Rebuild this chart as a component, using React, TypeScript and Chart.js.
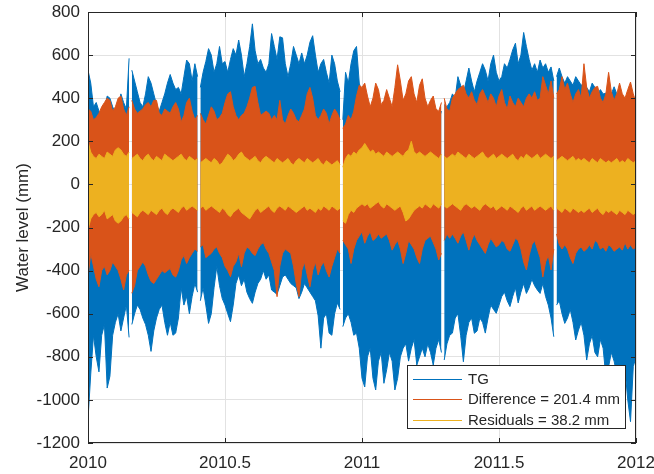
import { useEffect, useRef } from "react";
import { Chart, registerables } from "chart.js";

Chart.register(...registerables);

// Time axis: one envelope bin every 0.01 year starting at 2010.
const START_YEAR = 2010;
const BIN_YEARS = 0.01;

const xTicks = [2010, 2010.5, 2011, 2011.5, 2012];
const xTickLabels = ["2010", "2010.5", "2011", "2011.5", "2012"];
const yTicks = [800, 600, 400, 200, 0, -200, -400, -600, -800, -1000, -1200];

// Record interruptions (decimal year).
const gapYears = [2010.153, 2010.409, 2010.925, 2011.296, 2011.7];

// Tide gauge: highest and lowest level in each bin (mm).
const tgHigh = [
  530, 470, 360, 380, 340, 300, 350, 410, 400, 360,
  330, 350, 420, 380, 350, 585, 530, 480, 430, 380,
  360, 420, 500, 470, 420, 370, 340, 380, 420, 470,
  510, 470, 440, 450, 420, 500, 577, 560, 480, 560,
  500, 450, 520, 570, 630, 600, 520, 560, 640, 560,
  570, 520, 580, 630, 600, 670, 600, 500, 560, 640,
  745, 620, 560, 580, 540, 520, 560, 700, 640, 580,
  685, 680, 560, 500, 560, 640, 600, 560, 610, 560,
  600, 660, 690, 600, 520, 560, 580, 520, 470, 600,
  560, 480, 430, 300, 520, 470, 560, 620, 640, 470,
  420, 400, 350, 320, 360, 420, 380, 320, 340, 400,
  360, 320, 400, 480, 420, 340, 360, 420, 440, 370,
  330, 400, 430, 350, 320, 350, 370, 320, 300, 340,
  370, 360, 380, 420, 400, 500, 460, 420, 480, 540,
  480, 430, 480, 520, 560, 530, 480, 560, 600, 520,
  480, 500, 560, 540, 580, 624, 655, 560, 600, 705,
  640, 580, 530, 560, 520, 577, 540, 560, 520, 545,
  480, 500, 540, 500, 470, 500, 480, 460, 500, 480,
  460, 470, 450, 430, 470, 450, 420, 440, 420, 423,
  440, 420, 453, 420, 400, 410, 392, 380, 400, 360,
  340,
];
const tgLow = [
  -1090, -880, -700, -800, -870, -700, -650, -945, -890, -700,
  -640, -600, -680, -620, -560, -710, -650, -600, -560, -580,
  -620, -650, -700, -775, -680, -620, -580, -560, -640, -700,
  -640, -700, -690, -620, -480, -560, -520, -600, -520, -460,
  -500, -540, -480, -560, -645, -600, -480, -380, -470, -530,
  -560, -600, -637, -560, -460, -420, -470, -440, -500, -530,
  -552, -500, -460, -440, -400, -440, -420, -490, -500, -510,
  -470, -430, -420, -440, -460, -470, -480, -530, -500, -460,
  -480, -500, -520, -540, -610, -760, -620, -600, -690, -700,
  -600, -550, -580, -660, -620, -600, -640, -700, -690, -760,
  -900, -940, -800, -760, -900, -954, -820, -780, -923, -860,
  -780, -820, -954, -900, -800, -760, -740, -820, -760, -720,
  -838, -800, -760, -800, -740, -780, -838, -760, -720, -780,
  -815, -740, -700, -690, -620, -600, -700, -823, -700, -640,
  -620, -691, -680, -620, -640, -690, -620, -560, -580, -598,
  -560, -520, -500, -540, -567, -520, -480, -550, -500, -460,
  -506, -480, -440, -470, -490, -506, -460, -520, -560, -620,
  -707, -560, -540, -600, -645, -620, -580, -640, -722, -676,
  -640, -700, -815, -740, -700, -780, -800, -720, -760, -892,
  -846, -780, -820, -880, -970, -923, -860, -1000, -1101, -846,
  -800,
];

// Difference series envelope (mm).
const diffHigh = [
  350, 340, 300, 310, 330, 360, 380, 400, 390, 340,
  360, 400, 410, 350, 320, 360, 390, 350, 330, 340,
  350, 370, 380, 360, 390, 390, 330, 320, 350, 340,
  330, 360, 380, 350, 290, 320, 380, 400, 340, 300,
  320, 330, 300, 280, 320, 360, 340, 300, 310, 330,
  380, 420, 430, 360, 320, 300, 320, 330, 360, 400,
  450, 455, 380, 320, 330, 340, 330, 300, 320, 300,
  390, 300, 280, 320, 350, 330, 300, 290, 320, 350,
  420, 450, 400, 320, 300, 320, 350, 330, 280, 320,
  350, 330, 300, 260, 280, 320, 300, 340, 410, 460,
  450, 470, 410, 360, 400, 470, 440, 370, 390, 440,
  400, 360, 450, 555, 480, 390, 420, 480, 500, 420,
  380, 460, 490, 400, 360, 390, 410, 350, 340, 380,
  400, 350, 340, 400, 420, 440, 450, 460, 420, 400,
  430, 390, 370, 420, 440, 410, 380, 420, 400, 360,
  410, 440, 380, 350, 410, 380, 360, 400, 380, 360,
  400, 420, 400, 430, 390, 400, 500, 460, 420, 480,
  400, 420, 440, 500, 440, 470, 420, 380, 420, 440,
  400, 560, 450, 400, 430, 450, 455, 400, 380, 420,
  520, 430, 390, 420, 470, 420, 400, 440, 475, 420,
  380,
];
const diffLow = [
  -430, -320, -380, -440, -475, -400, -380, -420, -400, -360,
  -380, -400, -440, -490, -420, -400, -505, -470, -400, -380,
  -360, -380, -420, -450, -460, -440, -420, -400, -410, -400,
  -390, -420, -430, -400, -350, -330, -367, -340, -320, -300,
  -310, -290, -280, -340, -330, -320, -300, -290, -320, -340,
  -380, -400, -428, -380, -360, -320, -382, -320, -290, -300,
  -320, -330, -300, -280, -270, -300, -320, -360, -400, -521,
  -380, -320, -300, -310, -320, -380, -460, -521, -400, -360,
  -420, -475, -400, -360, -420, -380, -360, -400, -430, -380,
  -340, -300, -320, -260, -280, -300, -367, -300, -260, -240,
  -220, -273, -240, -220, -260, -250, -230, -250, -240, -230,
  -260, -305, -280, -260, -300, -367, -320, -260, -280, -300,
  -340, -367, -300, -260, -250, -240, -270, -300, -351, -320,
  -260, -230, -250, -230, -250, -273, -240, -220, -260, -305,
  -260, -230, -260, -280, -300, -320, -280, -250, -270, -290,
  -280, -260, -270, -300, -310, -280, -250, -260, -300, -360,
  -397, -330, -280, -260, -300, -340, -430, -360, -330, -397,
  -300, -230, -280, -300, -280, -300, -340, -367, -320, -300,
  -290, -310, -300, -280, -300, -260, -270, -300, -290, -310,
  -280, -290, -310, -300, -290, -305, -270, -300, -280, -300,
  -290,
];

// Residuals envelope (mm).
const resHigh = [
  200, 150, 130, 120, 140, 130, 120, 150, 140, 130,
  160, 170, 160, 140, 130, 150, 120, 130, 140, 120,
  110, 130, 140, 120, 110, 130, 120, 110, 140, 130,
  120, 110, 120, 130, 140, 120, 110, 130, 120, 110,
  120, 100, 110, 120, 110, 100, 120, 110, 90, 100,
  120, 140, 130, 110, 120, 140, 150, 130, 120, 110,
  120, 130, 110, 100, 120, 130, 120, 110, 100, 120,
  110, 100, 110, 120, 100, 90, 110, 120, 110, 100,
  120, 110, 100, 110, 120, 100, 90, 110, 100, 90,
  100, 110, 90, 80, 120, 140, 130, 150, 140, 160,
  170, 190, 170, 150, 160, 140, 150, 140, 130, 150,
  140, 130, 140, 150, 140, 130, 150, 160, 200, 150,
  140, 150, 140, 130, 140, 150, 140, 130, 120, 140,
  130, 120, 130, 140, 130, 150, 140, 130, 120, 140,
  130, 120, 130, 140, 150, 130, 120, 130, 140, 120,
  130, 140, 130, 120, 130, 140, 120, 110, 130, 120,
  140, 130, 120, 130, 140, 120, 130, 140, 130, 120,
  130, 110, 120, 130, 120, 110, 120, 130, 110, 120,
  110, 120, 110, 100, 120, 110, 100, 120, 110, 100,
  110, 100, 110, 120, 100, 110, 100, 120, 110, 100,
  110,
];
const resLow = [
  -210, -160, -140, -130, -150, -140, -120, -160, -150, -140,
  -170, -180, -170, -150, -140, -160, -130, -140, -150, -130,
  -120, -130, -140, -120, -130, -140, -120, -110, -130, -140,
  -120, -110, -120, -130, -110, -100, -120, -110, -100, -110,
  -120, -110, -100, -120, -110, -100, -110, -120, -130, -110,
  -120, -140, -150, -130, -120, -110, -130, -140, -150, -160,
  -140, -120, -110, -130, -120, -110, -100, -120, -130, -110,
  -100, -110, -120, -100, -110, -120, -130, -120, -110, -100,
  -120, -110, -120, -130, -110, -120, -100, -110, -120, -100,
  -110, -120, -110, -170, -180, -140, -120, -130, -110, -100,
  -90, -100, -90, -110, -100, -90, -80, -100, -110, -90,
  -100, -110, -120, -110, -100, -130, -170, -160, -140, -120,
  -110, -100, -110, -90, -100, -110, -90, -100, -110, -90,
  -100, -110, -100, -90, -100, -110, -120, -100, -90, -100,
  -110, -100, -110, -120, -100, -90, -100, -110, -100, -120,
  -110, -100, -110, -120, -100, -110, -120, -130, -110, -100,
  -120, -110, -100, -120, -110, -100, -110, -120, -110, -100,
  -120, -110, -120, -130, -110, -120, -130, -110, -120, -130,
  -120, -130, -120, -110, -130, -120, -110, -130, -140, -120,
  -130, -120, -130, -140, -120, -130, -140, -120, -130, -140,
  -130,
];

const diffRms = 201.4;
const resRms = 38.2;

const COLORS = {
  tg: "#0072BD",
  diff: "#D95319",
  res: "#EDB120",
  axis: "#262626",
  grid: "#e2e2e2",
};
const FONT = "'Liberation Sans', Arial, Helvetica, sans-serif";

type Pt = { x: number; y: number | null };

// One envelope edge as {x, y} points, broken at the record interruptions.
function buildEdge(values: (number | null)[]): Pt[] {
  const pts: Pt[] = values.map((v, i) => ({ x: START_YEAR + i * BIN_YEARS, y: v }));
  for (const g of gapYears) pts.push({ x: g, y: null });
  pts.sort((a, b) => a.x - b.x);
  return pts;
}

const legendItems = [
  { text: "TG", color: COLORS.tg },
  { text: `Difference = ${diffRms.toFixed(1)} mm`, color: COLORS.diff },
  { text: `Residuals = ${resRms.toFixed(1)} mm`, color: COLORS.res },
];

// Axes box with inward ticks on all four sides, plus the boxed legend.
const framePlugin = {
  id: "frameAndLegend",
  afterDraw(chart: any) {
    const { ctx, chartArea } = chart;
    const { left, right, top, bottom } = chartArea;
    const xs = chart.scales.x;
    const ys = chart.scales.y;
    ctx.save();
    ctx.strokeStyle = COLORS.axis;
    ctx.lineWidth = 1;
    ctx.strokeRect(left + 0.5, top + 0.5, right - left - 1, bottom - top - 1);
    const tl = 5;
    ctx.beginPath();
    for (const v of xTicks) {
      const px = Math.round(xs.getPixelForValue(v)) + 0.5;
      ctx.moveTo(px, bottom);
      ctx.lineTo(px, bottom - tl);
      ctx.moveTo(px, top);
      ctx.lineTo(px, top + tl);
    }
    for (const v of yTicks) {
      const py = Math.round(ys.getPixelForValue(v)) + 0.5;
      ctx.moveTo(left, py);
      ctx.lineTo(left + tl, py);
      ctx.moveTo(right, py);
      ctx.lineTo(right - tl, py);
    }
    ctx.stroke();

    // legend
    const boxW = 218;
    const boxH = 63;
    const bx = right - 11 - boxW;
    const by = bottom - 15 - boxH;
    ctx.fillStyle = "#ffffff";
    ctx.fillRect(bx, by, boxW, boxH);
    ctx.strokeStyle = COLORS.axis;
    ctx.strokeRect(bx + 0.5, by + 0.5, boxW, boxH);
    ctx.font = `15px ${FONT}`;
    ctx.textBaseline = "middle";
    ctx.textAlign = "left";
    legendItems.forEach((it, k) => {
      const cy = by + 13.5 + k * 20.5;
      ctx.strokeStyle = it.color;
      ctx.lineWidth = 1;
      ctx.beginPath();
      ctx.moveTo(bx + 6, Math.round(cy) + 0.5);
      ctx.lineTo(bx + 55, Math.round(cy) + 0.5);
      ctx.stroke();
      ctx.fillStyle = COLORS.axis;
      ctx.fillText(it.text, bx + 61, cy + 1);
    });
    ctx.restore();
  },
};

export default function App() {
  const canvasRef = useRef<HTMLCanvasElement | null>(null);

  useEffect(() => {
    document.body.style.margin = "0";
    const canvas = canvasRef.current;
    if (!canvas) return;

    const edgeStyle = {
      pointRadius: 0,
      pointHoverRadius: 0,
      borderWidth: 1,
      tension: 0,
      spanGaps: false,
    };
    // Each series is a filled band from its upper envelope down to its lower one.
    const band = (label: string, hi: (number | null)[], lo: (number | null)[], color: string, order: number) => [
      { ...edgeStyle, label, data: buildEdge(hi), borderColor: color, backgroundColor: color, fill: "+1", order: order + 1 },
      { ...edgeStyle, label: `${label} (low)`, data: buildEdge(lo), borderColor: color, backgroundColor: color, fill: false, order },
    ];

    const chart = new Chart(canvas, {
      type: "line",
      data: {
        datasets: [
          ...band("TG", tgHigh, tgLow, COLORS.tg, 5),
          ...band("Difference", diffHigh, diffLow, COLORS.diff, 3),
          ...band("Residuals", resHigh, resLow, COLORS.res, 1),
        ] as any,
      },
      options: {
        animation: false,
        responsive: false,
        devicePixelRatio: 1,
        events: [],
        layout: { padding: { top: 12, right: 18, left: 0, bottom: 0 } },
        plugins: {
          legend: { display: false },
          tooltip: { enabled: false },
          filler: { drawTime: "beforeDatasetDraw", propagate: false },
        },
        scales: {
          x: {
            type: "linear",
            min: 2010,
            max: 2012,
            afterBuildTicks: (axis: any) => {
              axis.ticks = xTicks.map((v) => ({ value: v }));
            },
            afterFit: (s: any) => {
              s.height = 31;
              s.paddingLeft = 0;
              s.paddingRight = 0;
            },
            grid: { color: COLORS.grid, drawTicks: false },
            border: { display: false },
            ticks: {
              padding: 10,
              color: COLORS.axis,
              font: { family: FONT, size: 17 },
              maxRotation: 0,
              autoSkip: false,
              callback: (v: any) => xTickLabels[xTicks.indexOf(Number(v))] ?? "",
            },
          },
          y: {
            type: "linear",
            min: -1200,
            max: 800,
            afterBuildTicks: (axis: any) => {
              axis.ticks = yTicks.map((v) => ({ value: v }));
            },
            afterFit: (s: any) => {
              s.width = 88;
              s.paddingTop = 0;
              s.paddingBottom = 0;
            },
            grid: { color: COLORS.grid, drawTicks: false },
            border: { display: false },
            title: {
              display: true,
              text: "Water level (mm)",
              color: COLORS.axis,
              font: { family: FONT, size: 17 },
              padding: { top: 13, bottom: 0 },
            },
            ticks: {
              padding: 8,
              color: COLORS.axis,
              font: { family: FONT, size: 17 },
              autoSkip: false,
              callback: (v: any) => String(v),
            },
          },
        },
      } as any,
      plugins: [framePlugin],
    });

    return () => chart.destroy();
  }, []);

  return <canvas ref={canvasRef} width={654} height={474} style={{ display: "block" }} />;
}
